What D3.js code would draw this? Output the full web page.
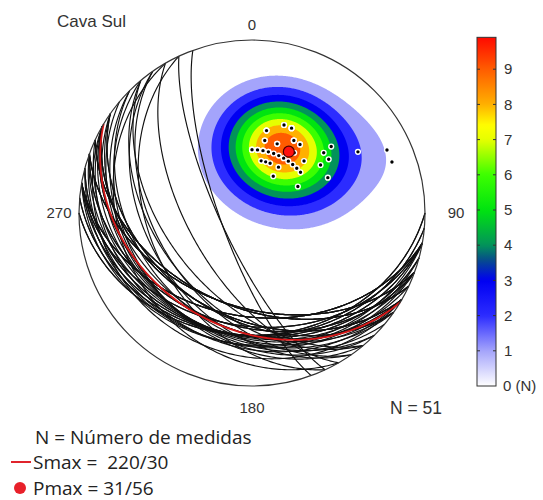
<!DOCTYPE html>
<html>
<head>
<meta charset="utf-8">
<script src="https://cdn.jsdelivr.net/npm/d3@7"></script>
<style>
  body { margin: 0; background: #fff; }
  svg text { font-family: "Liberation Sans", Arial, sans-serif; fill: #333; }
  svg text.legend { font-family: "Open Sans", sans-serif; fill: #222; }
</style>
</head>
<body>
<script>
// measured planes: dip direction / dip (poles are derived from them)
const dipDirections = [200, 205, 190, 190, 200, 210, 215, 230, 230, 235,
                       235, 245, 240, 210, 210, 225, 220, 230, 180, 185,
                       190, 195, 200, 205, 210, 215, 215, 210, 190, 195,
                       200, 225, 240, 245, 250,
                       200, 200, 205, 205, 190, 190, 190, 200, 210, 210,
                       215, 180, 185, 190, 195, 210];
const dips = [45, 45, 40, 35, 35, 40, 40, 50, 45, 45,
              40, 40, 25, 20, 25, 35, 30, 30, 30, 30,
              30, 30, 30, 30, 30, 30, 35, 34, 25, 25,
              25, 30, 60, 75, 75,
              45, 45, 45, 45, 40, 40, 35, 35, 40, 40,
              40, 30, 30, 30, 30, 34];
const smax = [220, 30];   // label of the mean plane
const pmax = [31, 56];    // density maximum (trend / plunge)
const levels = [1, 2, 3, 4, 5, 6, 7, 8, 9];
const barTicks = [1, 2, 3, 4, 5, 6, 7, 8, 9];
const dirLabels = ["0", "90", "180", "270"];

const width = 543, height = 500;
const cx = 252, cy = 213, R = 173;
const rad = Math.PI / 180;

const svg = d3.select("body").append("svg")
    .attr("width", width)
    .attr("height", height);

// equal-area, lower hemisphere: r = R * sqrt(1 - sin(plunge))
const rScale = d3.scaleSqrt().domain([0, 1]).range([0, R]);

function project(trend, plunge) {
  const r = rScale(1 - Math.sin(plunge * rad));
  return [cx + r * Math.sin(trend * rad), cy - r * Math.cos(trend * rad)];
}

function toVec(trend, plunge) {
  const t = trend * rad, p = plunge * rad;
  return [Math.cos(p) * Math.sin(t), Math.cos(p) * Math.cos(t), Math.sin(p)];
}

const poles = dipDirections.map((d, i) => ({trend: (d + 180) % 360, plunge: 90 - dips[i]}));
const N = poles.length;
const kappa = 2 * (1 + N / 9);   // exponential Kamb smoothing

// colour scale of the density bar
const color = d3.scaleLinear()
    .domain([0, 1, 2, 3, 3.6, 4, 5, 6, 7, 7.4, 8, 9, 10])
    .range(["#ffffff", "#a4a4fb", "#2c2cff", "#0000f2", "#064f88", "#02935a",
            "#00e410", "#3cff00", "#e6ff00", "#ffff00", "#ffb000", "#ff5c00", "#ff0000"]);

// density grid, multiples of a uniform distribution
const n = 2 * R + 2;
const x0 = cx - R - 1, y0 = cy - R - 1;
const poleVecs = poles.map(p => toVec(p.trend, p.plunge));
const values = new Float64Array(n * n);
for (let j = 0; j < n; j++) {
  for (let i = 0; i < n; i++) {
    const dx = x0 + i + 0.5 - cx, dy = cy - (y0 + j + 0.5);
    let sinp = 1 - (dx * dx + dy * dy) / (R * R);
    sinp = Math.max(-1, Math.min(1, sinp));
    const cosp = Math.sqrt(1 - sinp * sinp);
    const t = Math.atan2(dx, dy);
    const v = [cosp * Math.sin(t), cosp * Math.cos(t), sinp];
    let s = 0;
    for (const p of poleVecs) {
      const c = Math.abs(v[0] * p[0] + v[1] * p[1] + v[2] * p[2]);
      s += Math.exp(kappa * (c - 1));
    }
    values[j * n + i] = kappa * s / N;
  }
}
const vmax = d3.max(values);

svg.append("clipPath").attr("id", "net")
  .append("circle").attr("cx", cx).attr("cy", cy).attr("r", R);

const contours = d3.contours().size([n, n]).thresholds(levels)(values);
svg.append("g")
    .attr("clip-path", "url(#net)")
  .selectAll("path")
  .data(contours)
  .join("path")
    .attr("d", d3.geoPath(d3.geoIdentity().translate([x0, y0])))
    .attr("fill", d => color(d.value));

// great circles
function greatCircle(dd, dip) {
  const s = [Math.sin((dd - 90) * rad), Math.cos((dd - 90) * rad), 0];
  const d = toVec(dd, dip);
  return d3.range(0, 180.5, 1).map(a => {
    const c = Math.cos(a * rad), sn = Math.sin(a * rad);
    const v = [s[0] * c + d[0] * sn, s[1] * c + d[1] * sn, s[2] * c + d[2] * sn];
    const trend = Math.atan2(v[0], v[1]) / rad;
    const plunge = Math.asin(Math.max(-1, Math.min(1, v[2]))) / rad;
    return project(trend, plunge);
  });
}
const line = d3.line();

svg.append("g")
    .attr("fill", "none")
    .attr("stroke", "#111")
    .attr("stroke-width", 1.15)
  .selectAll("path")
  .data(dipDirections.map((d, i) => [d, dips[i]]))
  .join("path")
    .attr("d", d => line(greatCircle(d[0], d[1])));

// plane of the density maximum
svg.append("path")
    .attr("fill", "none")
    .attr("stroke", "#d81818")
    .attr("stroke-width", 1.8)
    .attr("d", line(greatCircle((pmax[0] + 180) % 360, 90 - pmax[1])));

// primitive circle
svg.append("circle")
    .attr("cx", cx).attr("cy", cy).attr("r", R)
    .attr("fill", "none")
    .attr("stroke", "#333")
    .attr("stroke-width", 1.2);

// poles
svg.append("g")
  .selectAll("circle")
  .data(poles)
  .join("circle")
    .attr("cx", d => project(d.trend, d.plunge)[0])
    .attr("cy", d => project(d.trend, d.plunge)[1])
    .attr("r", 2.4)
    .attr("fill", "#000")
    .attr("stroke", "#fff")
    .attr("stroke-width", 1.4);

const pm = project(pmax[0], pmax[1]);
svg.append("circle")
    .attr("cx", pm[0]).attr("cy", pm[1]).attr("r", 5.5)
    .attr("fill", "#ff1010")
    .attr("stroke", "#4a0000")
    .attr("stroke-width", 1.2);

// direction labels
const labelPos = [[cx, cy - R - 15], [cx + R + 31, cy], [cx, cy + R + 22], [cx - R - 20, cy]];
svg.append("g")
    .attr("font-size", 15)
    .attr("text-anchor", "middle")
  .selectAll("text")
  .data(dirLabels)
  .join("text")
    .attr("x", (d, i) => labelPos[i][0])
    .attr("y", (d, i) => labelPos[i][1])
    .attr("dy", "0.35em")
    .text(d => d);

svg.append("text")
    .attr("x", 57).attr("y", 27)
    .attr("font-size", 17)
    .text("Cava Sul");

svg.append("text")
    .attr("x", 390).attr("y", 414)
    .attr("font-size", 17.5)
    .text(`N = ${N}`);

// colour bar
const barX = 477, barW = 19;
const barY = d3.scaleLinear().domain([0, 10]).range([386, 34]);
const grad = svg.append("defs").append("linearGradient")
    .attr("id", "bar")
    .attr("x1", 0).attr("x2", 0).attr("y1", 1).attr("y2", 0);
grad.selectAll("stop")
  .data(d3.range(0, 101))
  .join("stop")
    .attr("offset", d => d + "%")
    .attr("stop-color", d => color(d / 100 * vmax));

svg.append("rect")
    .attr("x", barX).attr("y", barY(vmax))
    .attr("width", barW).attr("height", barY(0) - barY(vmax))
    .attr("fill", "url(#bar)")
    .attr("stroke", "#333")
    .attr("stroke-width", 1);

const tickG = svg.append("g").attr("stroke", "#333").attr("stroke-width", 1);
tickG.selectAll("line.l")
  .data(barTicks)
  .join("line")
    .attr("class", "l")
    .attr("x1", barX).attr("x2", barX + 3)
    .attr("y1", d => barY(d)).attr("y2", d => barY(d));
tickG.selectAll("line.r")
  .data(barTicks)
  .join("line")
    .attr("class", "r")
    .attr("x1", barX + barW - 3).attr("x2", barX + barW)
    .attr("y1", d => barY(d)).attr("y2", d => barY(d));

svg.append("g")
    .attr("font-size", 15)
  .selectAll("text")
  .data(barTicks)
  .join("text")
    .attr("x", barX + barW + 8)
    .attr("y", d => barY(d))
    .attr("dy", "0.35em")
    .text(d => d);

svg.append("text")
    .attr("x", barX + barW + 7)
    .attr("y", barY(0))
    .attr("dy", "0.35em")
    .attr("font-size", 15)
    .text("0 (N)");

// legend
svg.append("text").attr("class", "legend")
    .attr("x", 35).attr("y", 444)
    .attr("font-size", 19)
    .text("N = Número de medidas");

svg.append("line")
    .attr("x1", 11).attr("x2", 31).attr("y1", 462).attr("y2", 462)
    .attr("stroke", "#e0242c").attr("stroke-width", 2);
svg.append("text").attr("class", "legend")
    .attr("x", 33).attr("y", 469)
    .attr("font-size", 19)
    .style("white-space", "pre")
    .text(`Smax =  ${smax[0]}/${smax[1]}`);

svg.append("circle")
    .attr("cx", 20).attr("cy", 488).attr("r", 6)
    .attr("fill", "#e8202a");
svg.append("text").attr("class", "legend")
    .attr("x", 33).attr("y", 495)
    .attr("font-size", 19)
    .text(`Pmax = ${pmax[0]}/${pmax[1]}`);
</script>
</body>
</html>
